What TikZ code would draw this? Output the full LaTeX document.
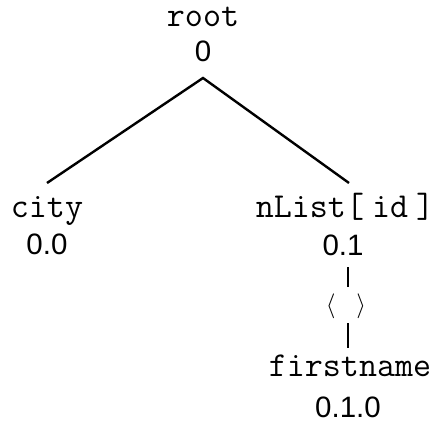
\documentclass[tikz,border=0pt]{standalone}
\usepackage{fontspec}
\setmainfont{Liberation Sans}
\newfontfamily\numfont{Liberation Sans}
\begin{document}
\begin{tikzpicture}[x=1pt,y=-1pt,
  lbl/.style={font=\ttfamily\fontsize{35}{36}\selectfont, inner sep=0pt, anchor=base},
  numlbl/.style={font=\numfont\fontsize{29.5}{30}\selectfont, inner sep=0pt, anchor=base},
  link/.style={line width=2.4pt}]
\useasboundingbox (0,0) rectangle (436,425);

% element names with their positional numbers
\node[lbl]    (root)     at (203,26.5) {root};
\node[numlbl] (rootnum)  at (203,62)  {0};
\node[lbl]    (city)     at (47,217)  {city};
\node[numlbl] (citynum)  at (47,254)  {0.0};
\node[lbl]    (nlist)    at (345,217) {nList[\hspace{8pt}id\hspace{8pt}]};
\node[numlbl] (nlistnum) at (343,255) {0.1};
\node[font=\fontsize{37}{37}\selectfont, inner sep=0pt] (seq) at (346,306)
  {$\langle$\hspace{21pt}$\rangle$};
\node[lbl]    (first)    at (350,376) {firstname};
\node[numlbl] (firstnum) at (348,417) {0.1.0};

% branch points and line ends
\coordinate (apex)     at (203,78);
\coordinate (cityTop)  at (47,183);
\coordinate (nlistTop) at (349,183);
\coordinate (nlistBot) at (348,267);
\coordinate (seqTop)   at (348,287);
\coordinate (seqBot)   at (348,323);
\coordinate (firstTop) at (348,348);

\draw[link] (cityTop) -- (apex) -- (nlistTop);
\draw[link] (nlistBot) -- (seqTop);
\draw[link] (seqBot) -- (firstTop);
\end{tikzpicture}
\end{document}
